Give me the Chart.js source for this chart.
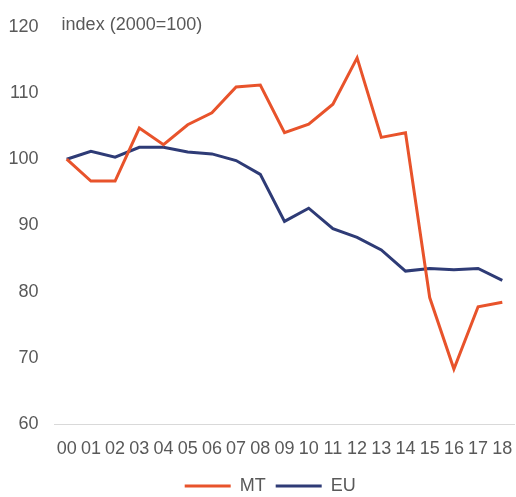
<!DOCTYPE html>
<html>
<head>
<meta charset="utf-8">
<script src="https://cdn.jsdelivr.net/npm/chart.js@4/dist/chart.umd.min.js"></script>
<style>
  html, body { margin: 0; padding: 0; background: #fff; }
  #wrap { width: 516px; height: 497px; position: relative; }
</style>
</head>
<body>
<div id="wrap"><canvas id="indexChart"></canvas></div>
<script>
// Data
const years = ["00", "01", "02", "03", "04", "05", "06", "07", "08", "09",
  "10", "11", "12", "13", "14", "15", "16", "17", "18"];
const mtValues = [100, 96.7, 96.7, 104.7, 102.2, 105.2, 107.0, 110.9, 111.2, 104.0,
  105.3, 108.3, 115.3, 103.3, 104.0, 79.1, 68.3, 77.7, 78.4];
const euValues = [100, 101.2, 100.3, 101.8, 101.8, 101.1, 100.8, 99.8, 97.7, 90.6,
  92.6, 89.5, 88.2, 86.3, 83.1, 83.5, 83.3, 83.5, 81.7];
const unitLabel = "index (2000=100)";

const textGrey = "#595959";
const font = { family: "'Liberation Sans', Arial, sans-serif", size: 18 };

// Small plugin to put the unit label next to the top tick
const unitLabelPlugin = {
  id: "unitLabel",
  afterLayout(chart) {
    // nudge the legend a bit to the right, like the original
    chart.legend.left += 13;
    chart.legend.right += 13;
  },
  afterDraw(chart) {
    const c = chart.ctx;
    const y = chart.scales.y.getPixelForValue(120);
    c.save();
    c.font = `${font.size}px ${font.family}`;
    c.fillStyle = textGrey;
    c.textAlign = "left";
    c.textBaseline = "middle";
    c.fillText(unitLabel, chart.chartArea.left + 7, y - 2);
    c.restore();
  },
};

const ctx = document.getElementById("indexChart").getContext("2d");
const indexChart = new Chart(ctx, {
  type: "line",
  data: {
    labels: years,
    datasets: [
      {
        label: "MT",
        data: mtValues,
        borderColor: "#E8532B",
        backgroundColor: "#E8532B",
        borderWidth: 3,
        pointRadius: 0,
        tension: 0,
        fill: false,
      },
      {
        label: "EU",
        data: euValues,
        borderColor: "#2E3B76",
        backgroundColor: "#2E3B76",
        borderWidth: 3,
        pointRadius: 0,
        tension: 0,
        fill: false,
      },
    ],
  },
  options: {
    responsive: true,
    maintainAspectRatio: false,
    animation: false,
    layout: {
      padding: { top: 2, right: 1.6, left: 0, bottom: -8 },
    },
    plugins: {
      legend: {
        display: true,
        position: "bottom",
        labels: {
          color: textGrey,
          font: font,
          boxWidth: 46,
          boxHeight: 3,
          padding: 10,
          generateLabels(chart) {
            return Chart.defaults.plugins.legend.labels.generateLabels(chart).map((l) => {
              l.lineWidth = 0;
              l.fillStyle = l.strokeStyle;
              return l;
            });
          },
        },
      },
      tooltip: { enabled: false },
    },
    scales: {
      x: {
        offset: true,
        grid: { display: false, drawTicks: false },
        border: { display: true, color: "#D9D9D9", width: 1 },
        ticks: {
          color: textGrey,
          font: font,
          autoSkip: false,
          maxRotation: 0,
          padding: 14,
        },
        afterFit(scale) {
          scale.paddingLeft = 0;
          scale.paddingRight = 0;
          scale.height = 43;
        },
      },
      y: {
        min: 60,
        max: 120,
        grid: { display: false, drawTicks: false },
        border: { display: false },
        ticks: {
          stepSize: 10,
          color: textGrey,
          font: font,
          padding: 16,
        },
        afterFit(scale) {
          scale.width = 54.6;
        },
      },
    },
  },
  plugins: [unitLabelPlugin],
});
</script>
</body>
</html>
